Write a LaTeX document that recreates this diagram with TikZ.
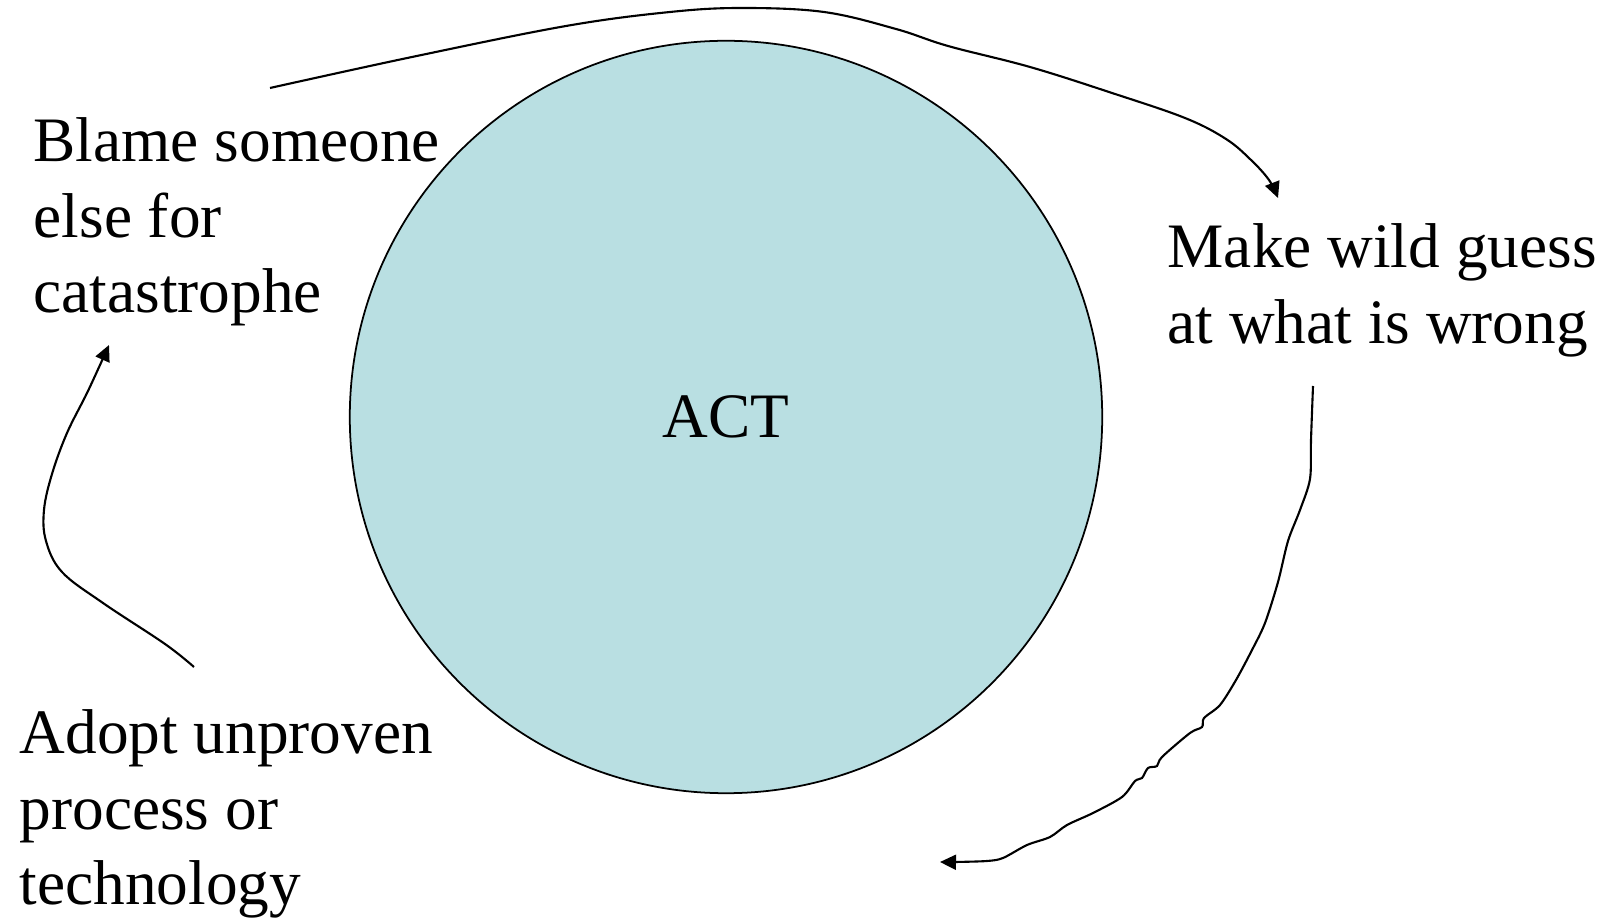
\documentclass[tikz,border=0pt]{standalone}
\usepackage{fontspec}
\setmainfont{Liberation Serif}
\usetikzlibrary{arrows.meta}
\definecolor{actblue}{RGB}{185,223,226}

\begin{document}
\begin{tikzpicture}[x=0.01cm,y=-0.01cm,>={Triangle[length=1.6mm,width=1.5mm]},
 every node/.style={font=\fontsize{18}{21.5}\selectfont},
 txt/.style={align=left,anchor=north west,inner sep=0pt},
 loop/.style={->,line width=0.6pt}]
\useasboundingbox (0,0) rectangle (1615,919);
\node[circle,draw=black,line width=0.5pt,fill=actblue,minimum size=7.52cm,inner sep=0pt](act)at(726,417){ACT};
\node[txt](blame)at(33,117){Blame someone\\else for\\catastrophe};
\node[txt](guess)at(1167,223){Make wild guess\\at what is wrong};
\node[txt](adopt)at(19,709){Adopt unproven\\process or\\technology};
\coordinate(blameout)at(270,88);\coordinate(guessin)at(1278,198);
\coordinate(guessout)at(1313,386);\coordinate(actin)at(940,862);
\coordinate(adoptout)at(194,667);\coordinate(blamein)at(109,345);
\draw[loop] plot[smooth,tension=0.6] coordinates {(blameout) (412,57) (566,26) (670,12)
 (742,8) (824,12) (896,29) (948,46) (1030,67) (1112,93) (1185,118) (1226,139)
 (1251,160) (1269,180) (guessin)};
\draw[loop] plot[smooth,tension=0.5] coordinates {(guessout) (1311,440) (1310,479)
 (1300,510) (1288,541) (1278,582) (1265,623) (1252,650) (1236,680) (1220,705)
 (1204,718) (1202,727) (1190,733) (1162,757) (1157,766) (1148,768) (1142,778)
 (1135,781) (1122,797) (1093,813) (1067,825) (1050,837) (1027,845) (1003,858)
 (987,861) (955,862) (actin)};
\draw[loop] plot[smooth,tension=0.6] coordinates {(adoptout) (165,644) (103,603)
 (62,572) (46,541) (44,510) (52,474) (67,433) (88,391) (blamein)};
\end{tikzpicture}
\end{document}
